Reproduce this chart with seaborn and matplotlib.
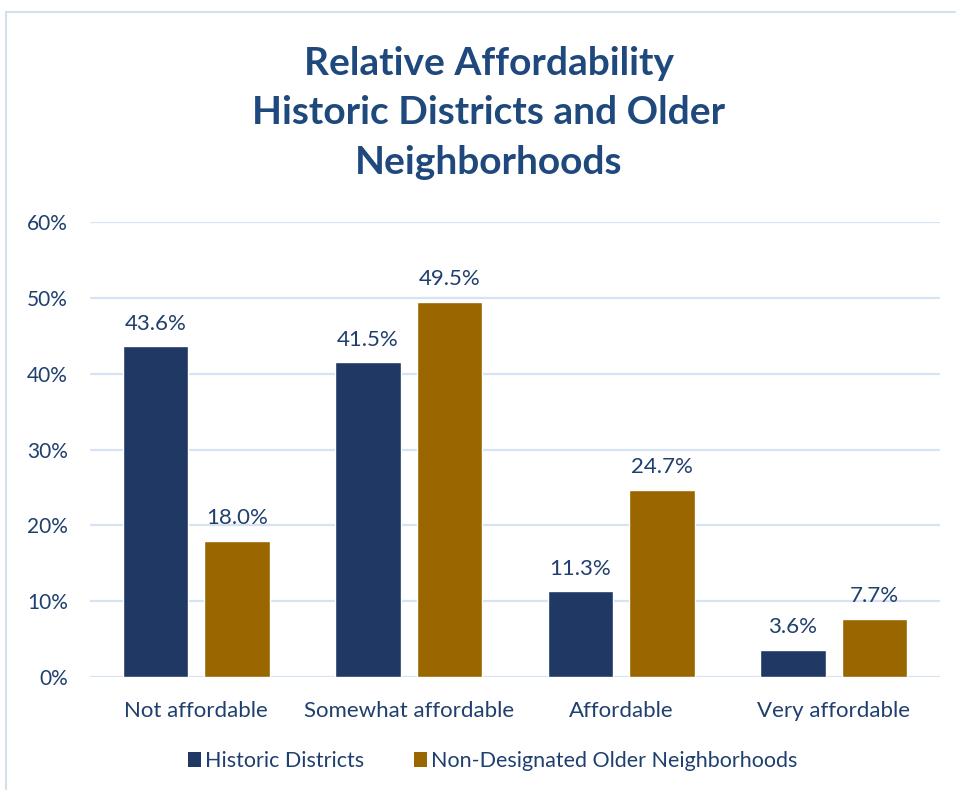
import matplotlib
matplotlib.use("Agg")
import matplotlib.pyplot as plt
from matplotlib.patches import Rectangle, Patch
import pandas as pd
import seaborn as sns

categories = ["Not affordable", "Somewhat affordable", "Affordable", "Very affordable"]
series_names = ["Historic Districts", "Non-Designated Older Neighborhoods"]
historic = [43.6, 41.5, 11.3, 3.6]
older = [18.0, 49.5, 24.7, 7.7]
y_ticks = [0, 10, 20, 30, 40, 50, 60]
title_lines = ["Relative Affordability", "Historic Districts and Older", "Neighborhoods"]

colors = ["#203864", "#996600"]
text_color = "#1F3F6E"
grid_color = "#D6E3F2"

df = pd.DataFrame({
    "category": categories * 2,
    "series": [series_names[0]] * 4 + [series_names[1]] * 4,
    "value": historic + older,
})

sns.set_theme(style="white")
plt.rcParams["font.family"] = ["Lato", "DejaVu Sans"]

fig = plt.figure(figsize=(9.56, 7.9), dpi=100)
ax = fig.add_axes([90 / 956, 1 - 677 / 790, 850 / 956, 455 / 790])

sns.barplot(data=df, x="category", y="value", hue="series", order=categories,
            hue_order=series_names, palette=colors, width=0.77, gap=0.2,
            saturation=1, ax=ax, legend=False, zorder=3)

ax.set_ylim(0, 60)
ax.set_xlim(-0.5, 3.5)
ax.set_yticks(y_ticks)
ax.set_yticklabels([f"{t}%" for t in y_ticks])
ax.grid(axis="y", color=grid_color, linewidth=1.6, zorder=0)
ax.set_axisbelow(True)
for s in ax.spines.values():
    s.set_visible(False)
ax.tick_params(axis="both", length=0, colors=text_color)
ax.tick_params(axis="y", pad=16, labelsize=15)
ax.tick_params(axis="x", pad=17, labelsize=16)
ax.set_xlabel("")
ax.set_ylabel("")

for cont in ax.containers:
    ax.bar_label(cont, labels=[f"{v:.1f}%" for v in cont.datavalues],
                 padding=9, color=text_color, fontsize=16)

fig.text(489 / 956, 1 - 113 / 790, "\n".join(title_lines), ha="center", va="center",
         fontsize=28, fontweight="bold", color="#1F497D", linespacing=1.5)

handles = [Patch(facecolor=c, edgecolor="none") for c in colors]
fig.legend(handles, series_names, loc="center", bbox_to_anchor=(493 / 956, 1 - 761 / 790),
           ncol=2, frameon=False, fontsize=15.5, labelcolor=text_color,
           handlelength=0.6, handleheight=0.75, handletextpad=0.2, columnspacing=2.3)

fig.patches.append(Rectangle((6 / 956, -0.05), 1.2, 1 - 12 / 790 + 0.05,
                             transform=fig.transFigure, fill=False,
                             edgecolor="#D3E0F0", linewidth=1.5))

fig.savefig("out.png", dpi=100)
